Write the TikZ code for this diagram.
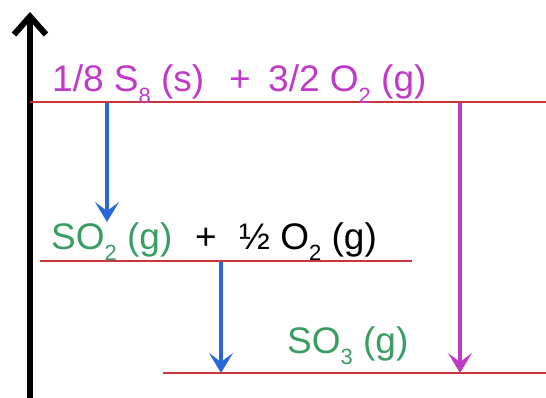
\documentclass[tikz,border=0pt]{standalone}
\usepackage{fontspec}
\setmainfont{Liberation Sans}
\usetikzlibrary{arrows.meta}
\definecolor{lvlred}{HTML}{C8363A}
\definecolor{mag}{HTML}{C03AC8}
\definecolor{grn}{HTML}{3A9E64}
\definecolor{blu}{HTML}{2A68D8}
\newcommand\chsub[1]{\raisebox{-0.3em}{\fontsize{22}{22}\selectfont #1}}
\tikzset{
  lvl/.style={draw=lvlred, line width=2.7pt},
  lab/.style={anchor=base west, inner sep=0pt, font=\fontsize{37}{40}\selectfont},
  dhblue/.style={draw=blu, line width=4.2pt, -{Stealth[length=20pt,width=24pt,inset=9pt]}},
  dhmag/.style={draw=mag, line width=4.2pt, -{Stealth[length=20pt,width=24pt,inset=9pt]}},
  axisarrow/.style={draw=black, line width=6pt, -{Straight Barb[length=18pt,width=32pt,line width=6pt]}}
}
\begin{document}
\begin{tikzpicture}[x=1pt,y=-1pt]
\useasboundingbox (0,0) rectangle (546,398);
% axis
\coordinate (ax0) at (30,398);
\coordinate (ax1) at (30,12);
\draw[axisarrow] (ax0) -- (ax1);
% levels
\coordinate (L1a) at (30,102);  \coordinate (L1b) at (546,102);
\coordinate (L2a) at (40,261);  \coordinate (L2b) at (412,261);
\coordinate (L3a) at (163,373); \coordinate (L3b) at (546,373);
\draw[lvl] (L1a) -- (L1b);
\draw[lvl] (L2a) -- (L2b);
\draw[lvl] (L3a) -- (L3b);
% labels
\node[lab, text=mag] (t1) at (52,92) {1/8 S\chsub{8} (s)};
\node[lab, text=mag] (tp) at (229,92) {+};
\node[lab, text=mag] (t2) at (268,92) {3/2 O\chsub{2} (g)};
\node[lab, text=grn] (m1) at (51,249) {SO\chsub{2} (g)};
\node[lab, text=black] (mp) at (195,249) {+};
\node[lab, text=black] (m2) at (239,249) {½ O\chsub{2} (g)};
\node[lab, text=grn] (b1) at (287,353) {SO\chsub{3} (g)};
% arrows
\coordinate (a1s) at (107,103); \coordinate (a1e) at (107,222);
\coordinate (a2s) at (221,262); \coordinate (a2e) at (221,373);
\coordinate (a3s) at (460,103); \coordinate (a3e) at (460,373);
\draw[dhblue] (a1s) -- (a1e);
\draw[dhblue] (a2s) -- (a2e);
\draw[dhmag] (a3s) -- (a3e);
\end{tikzpicture}
\end{document}
